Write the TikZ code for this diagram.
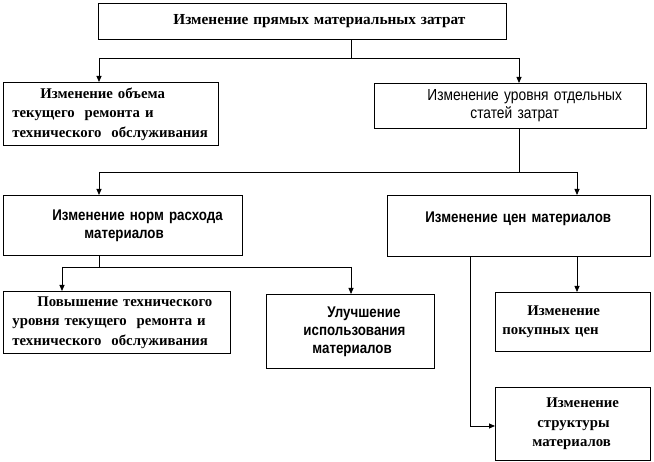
\documentclass[tikz,border=0pt]{standalone}
\usepackage{fontspec}
\setmainfont{Liberation Serif}
\newfontfamily\narrowsf[FakeStretch=0.86]{Liberation Sans}
\usetikzlibrary{arrows.meta}

\begin{document}
\begin{tikzpicture}[x=1pt,y=-1pt,line width=.8pt,
    box/.style={draw,anchor=north west,align=left,inner xsep=0pt},
    serb/.style={font=\fontsize{14.8}{19.5}\selectfont\bfseries},
    sans/.style={font=\narrowsf\fontsize{16}{18}\selectfont},
    sansb/.style={font=\narrowsf\fontsize{15.5}{18}\selectfont\bfseries},
    arr/.style={-{Triangle[length=6pt,width=5pt]}}]
  \useasboundingbox (0,0) rectangle (654,462);
  \node[box,serb,text width=408pt,minimum height=36pt](T) at (98,3)
    {\hspace*{75pt}\fontsize{15.3}{19.5}\selectfont Изменение прямых материальных затрат};
  \node[box,serb,text width=215pt,minimum height=63pt](A) at (3,82)
    {\hspace*{37pt}Изменение объема\\\hspace*{9pt}текущего~~ремонта и\\\hspace*{9pt}технического~~обслуживания};
  \node[box,sans,text width=272pt,minimum height=45pt](B) at (374,83)
    {\hspace*{53pt}Изменение уровня отдельных\\\hspace*{96pt}статей затрат};
  \node[box,sansb,text width=239pt,minimum height=60pt](C) at (3,195)
    {\hspace*{49pt}Изменение норм расхода\\\hspace*{81pt}материалов};
  \node[box,sansb,text width=263pt,minimum height=61pt](D) at (387,195)
    {\hspace*{38pt}Изменение цен материалов\\~};
  \node[box,serb,text width=227pt,minimum height=62pt](E) at (3,291)
    {\hspace*{34pt}Повышение технического\\\hspace*{9pt}уровня текущего~~ремонта и\\\hspace*{9pt}технического~~обслуживания};
  \node[box,sansb,text width=168pt,minimum height=74pt](F) at (266,294)
    {\hspace*{61pt}Улучшение\\\hspace*{37pt}использования\\\hspace*{46pt}материалов};
  \node[box,serb,text width=155pt,minimum height=59pt](G) at (495,292)
    {\hspace*{32pt}Изменение\\\hspace*{7pt}покупных цен};
  \node[box,serb,text width=155pt,minimum height=73pt](H) at (495,387)
    {\hspace*{51pt}Изменение\\\hspace*{42pt}структуры\\\hspace*{37pt}материалов};
  %%
  \coordinate (t1) at (351,58);
  \coordinate (a1) at (99,58);
  \coordinate (b1) at (519,58);
  \draw (T.south -| t1) -- (t1);
  \draw (a1) -- (b1);
  \draw[arr] (a1) -- (A.north -| a1);
  \draw[arr] (b1) -- (B.north -| b1);
  %%
  \coordinate (c1) at (99,172);
  \coordinate (d1) at (577,172);
  \draw (B.south -| b1) -- (b1 |- c1);
  \draw (c1) -- (d1);
  \draw[arr] (c1) -- (C.north -| c1);
  \draw[arr] (d1) -- (D.north -| d1);
  %%
  \coordinate (e1) at (62,267);
  \coordinate (f1) at (351,267);
  \draw (C.south -| c1) -- (c1 |- e1);
  \draw (e1) -- (f1);
  \draw[arr] (e1) -- (E.north -| e1);
  \draw[arr] (f1) -- (F.north -| f1);
  %%
  \coordinate (h1) at (470,426);
  \draw[arr] (D.south -| d1) -- (G.north -| d1);
  \draw[arr] (D.south -| h1) -- (h1) -- (H.west |- h1);
\end{tikzpicture}
\end{document}
